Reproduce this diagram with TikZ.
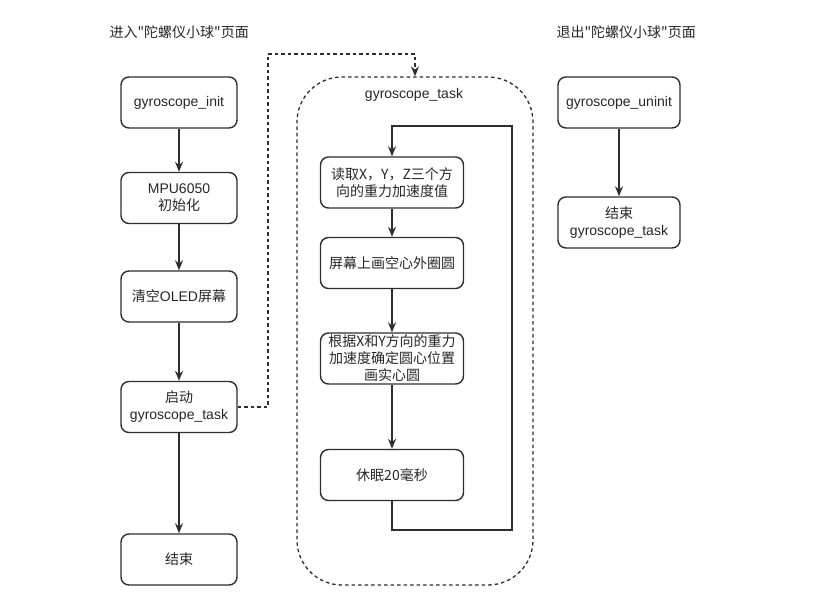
\documentclass[tikz,border=0pt]{standalone}
\usepackage{fontspec}
\setmainfont{Liberation Sans}
\newfontfamily\cjk{Noto Sans CJK SC}
\newcommand{\zh}[1]{{\cjk #1}}
\usepackage{tikz}
\usetikzlibrary{arrows.meta, positioning, calc}
\definecolor{flowline}{HTML}{2E2E2E}
\definecolor{flowtext}{HTML}{262626}

\begin{document}
\begin{tikzpicture}[
  x=1pt, y=-1pt,
  box/.style={draw=flowline, line width=1.4pt, rounded corners=8pt,
    minimum width=#1, minimum height=51pt, inner sep=1pt,
    align=center, font=\fontsize{14}{17}\selectfont, text=flowtext},
  box/.default=116pt,
  arr/.style={-{Stealth[length=10pt, width=8pt]}, line width=1.3pt, draw=flowline},
  dasharr/.style={arr, dash pattern=on 3.5pt off 3pt},
  head/.style={font=\fontsize{14}{17}\selectfont, text=flowtext, anchor=west}
]
  \useasboundingbox (0,0) rectangle (830,592);

  % page headers
  \node[head] (enter) at (106,32) {\zh{进入"陀螺仪小球"页面}};
  \node[head] (leave) at (553,32) {\zh{退出"陀螺仪小球"页面}};

  % enter page
  \node[box] (init)  at (179,102.5) {gyroscope\_init};
  \node[box] (mpu)   at (179,198)   {MPU6050\\\zh{初始化}};
  \node[box] (oled)  at (179,296.5) {\zh{清空}OLED\zh{屏幕}};
  \node[box] (start) at (179,407)   {\zh{启动}\\gyroscope\_task};
  \node[box] (endl)  at (179,559.5) {\zh{结束}};

  \draw[arr] (init) -- (mpu);
  \draw[arr] (mpu) -- (oled);
  \draw[arr] (oled) -- (start);
  \draw[arr] (start) -- (endl);

  % the task
  \node[draw=flowline, line width=1.3pt, dash pattern=on 3.5pt off 3pt,
    rounded corners=45pt, minimum width=236pt, minimum height=508pt,
    inner sep=0pt] (task) at (415,331) {};
  \node[font=\fontsize{14}{17}\selectfont, text=flowtext] (tasktitle)
    at (414,95) {gyroscope\_task};

  \node[box=143pt] (read)  at (392,182.5) {\zh{读取X，Y，Z三个方}\\\zh{向的重力加速度值}};
  \node[box=143pt] (ring)  at (392,263)   {\zh{屏幕上画空心外圈圆}};
  \node[box=143pt] (ball)  at (392,358.5) {\zh{根据X和Y方向的重力}\\\zh{加速度确定圆心位置}\\\zh{画实心圆}};
  \node[box=143pt] (sleep) at (392,475)   {\zh{休眠20毫秒}};

  \draw[arr] (read) -- (ring);
  \draw[arr] (ring) -- (ball);
  \draw[arr] (ball) -- (sleep);

  \coordinate (loopb) at (512,530);
  \coordinate (loopt) at (512,126);
  \draw[arr] (sleep.south) |- (loopb) -- (loopt) -| (read.north);

  \coordinate (jog) at (268,54);
  \draw[dasharr] (start.east) -| (jog) -| (task.north);

  % leave page
  \node[box=122pt] (uninit) at (619,102.5) {gyroscope\_uninit};
  \node[box=122pt] (endr)   at (619,222.5) {\zh{结束}\\gyroscope\_task};
  \draw[arr] (uninit) -- (endr);
\end{tikzpicture}
\end{document}
